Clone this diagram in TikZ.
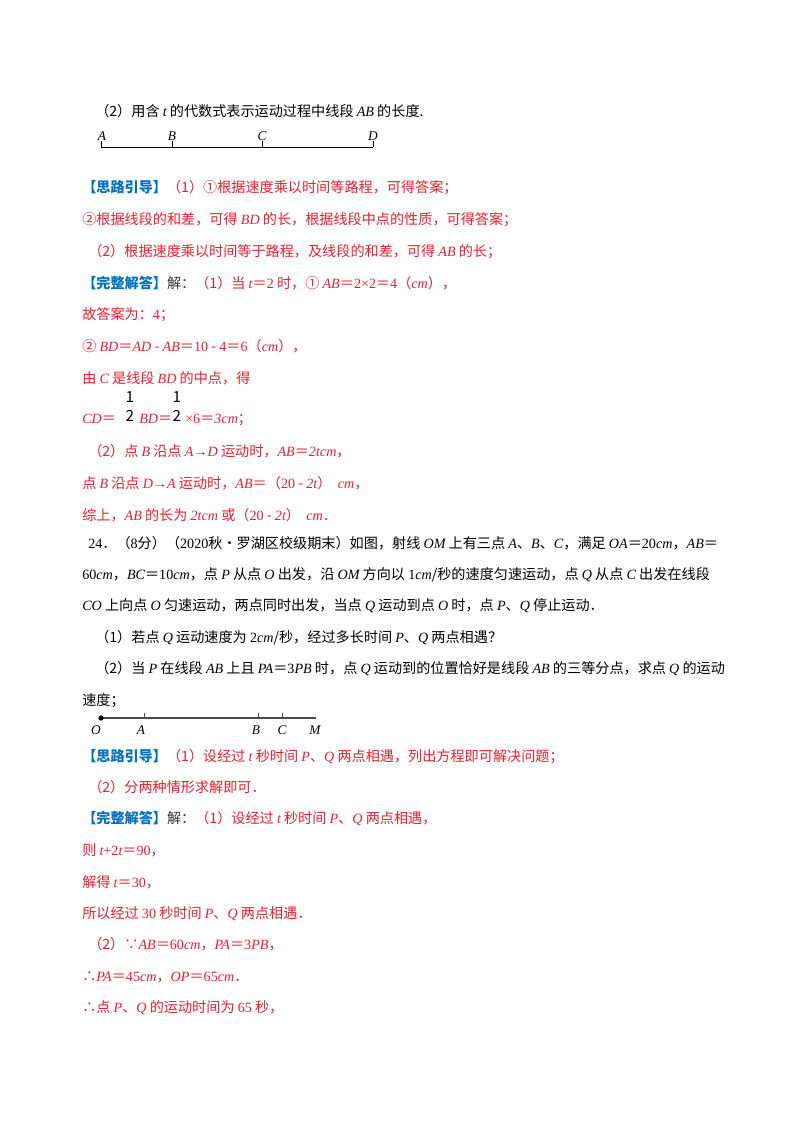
\documentclass[tikz,border=0pt]{standalone}
\usepackage{fontspec}
\setmainfont{Noto Sans CJK SC}
\newfontfamily\lat{Liberation Serif}
\newcommand\mi[1]{{\lat\itshape #1}}
\newcommand\mr[1]{{\lat #1}}
\definecolor{rd}{RGB}{235,30,45}
\definecolor{bl}{RGB}{0,112,192}
\begin{document}
\begin{tikzpicture}[x=0.75pt,y=-0.75pt,
  t/.style={anchor=base west,inner sep=0,font=\fontsize{10.6}{12}\selectfont},
  r/.style={t,text=rd},
  k/.style={t,text=black},
  fr/.style={inner sep=0,font=\fontsize{11.5}{12}\selectfont},
  lab/.style={inner sep=0,font=\lat\itshape\fontsize{10}{12}\selectfont}]
\useasboundingbox (0,0) rectangle (800,1132);
\node[k] (l1) at (95,116) {（2）用含 \mi{t} 的代数式表示运动过程中线段 \mi{AB} 的长度.};
% diagram 1
\coordinate (pA) at (101,147); \coordinate (pB) at (172,147);
\coordinate (pC) at (262,147); \coordinate (pD) at (373,147);
\draw[line width=0.7pt] (pA) -- (pD);
\foreach \p in {pA,pB,pC,pD} \draw[line width=0.7pt] (\p) -- ++(0,-6);
\node[lab] (nA) at (102,136) {A}; \node[lab] (nB) at (172,136) {B};
\node[lab] (nC) at (262,136) {C}; \node[lab] (nD) at (373,136) {D};
\node[r] (l2) at (82,192) {\textcolor{bl}{\bfseries【思路引导】}（1）①根据速度乘以时间等路程，可得答案；};
\node[r] (l3) at (82,224) {②根据线段的和差，可得 \mi{BD} 的长，根据线段中点的性质，可得答案；};
\node[r] (l4) at (88,256) {（2）根据速度乘以时间等于路程，及线段的和差，可得 \mi{AB} 的长；};
\node[r] (l5) at (82,288) {\textcolor{bl}{\bfseries【完整解答】}\textcolor{black!80}{解：}（1）当 \mi{t}＝\mr{2} 时，① \mi{AB}＝\mr{2×2}＝\mr{4}（\mi{cm}），};
\node[r] (l6) at (82,319) {故答案为：\mr{4}；};
\node[r] (l7) at (82,351) {② \mi{BD}＝\mi{AD} - \mi{AB}＝\mr{10} - \mr{4}＝\mr{6}（\mi{cm}），};
\node[r] (l8) at (82,383) {由 \mi{C} 是线段 \mi{BD} 的中点，得};
\node[r] (l9) at (82,423) {\mi{CD}＝};
\node[fr] (f1n) at (130,397) {1};
\node[fr] (f1d) at (130,416) {2};
\node[r] (l9b) at (139,423) {\mi{BD}＝};
\node[fr] (f2n) at (177,397) {1};
\node[fr] (f2d) at (177,416) {2};
\node[r] (l9c) at (185,423) {\mr{×6}＝\mi{3cm}；};
\node[r] (l10) at (88,456) {（2）点 \mi{B} 沿点 \mi{A}\mr{→}\mi{D} 运动时，\mi{AB}＝\mi{2tcm}，};
\node[r] (l11) at (82,488) {点 \mi{B} 沿点 \mi{D}\mr{→}\mi{A} 运动时，\mi{AB}＝（\mr{20} - \mi{2t}）\ \ \mi{cm}，};
\node[r] (l12) at (82,520) {综上，\mi{AB} 的长为 \mi{2tcm} 或（\mr{20} - \mi{2t}）\ \ \mi{cm}．};
\node[k] (l13) at (88,548) {\mr{24}．（\mr{8}分）（\mr{2020}秋•罗湖区校级期末）如图，射线 \mi{OM} 上有三点 \mi{A}、\mi{B}、\mi{C}，满足 \mi{OA}＝\mr{20}\mi{cm}，\mi{AB}＝};
\node[k] (l14) at (82,579) {\mr{60}\mi{cm}，\mi{BC}＝\mr{10}\mi{cm}，点 \mi{P} 从点 \mi{O} 出发，沿 \mi{OM} 方向以 \mr{1}\mi{cm}/秒的速度匀速运动，点 \mi{Q} 从点 \mi{C} 出发在线段};
\node[k] (l15) at (82,610) {\mi{CO} 上向点 \mi{O} 匀速运动，两点同时出发，当点 \mi{Q} 运动到点 \mi{O} 时，点 \mi{P}、\mi{Q} 停止运动．};
\node[k] (l16) at (95,642) {（1）若点 \mi{Q} 运动速度为 \mr{2}\mi{cm}/秒，经过多长时间 \mi{P}、\mi{Q} 两点相遇？};
\node[k] (l17) at (95,673) {（2）当 \mi{P} 在线段 \mi{AB} 上且 \mi{PA}＝\mr{3}\mi{PB} 时，点 \mi{Q} 运动到的位置恰好是线段 \mi{AB} 的三等分点，求点 \mi{Q} 的运动};
\node[k] (l18) at (82,705) {速度；};
% diagram 2
\coordinate (qO) at (101,718); \coordinate (qA) at (144,718);
\coordinate (qB) at (258,718); \coordinate (qC) at (282,718);
\coordinate (qM) at (316,718);
\draw[line width=0.8pt,black!70] (qO) -- (qM);
\fill (qO) circle (2.6);
\foreach \p in {qA,qB,qC} \draw[line width=0.7pt,black!70] (\p) -- ++(0,-5);
\node[lab] (mO) at (96,730) {O}; \node[lab] (mA) at (141,730) {A};
\node[lab] (mB) at (256,730) {B}; \node[lab] (mC) at (282,730) {C};
\node[lab] (mM) at (315,730) {M};
\node[r] (l19) at (82,761) {\textcolor{bl}{\bfseries【思路引导】}（1）设经过 \mi{t} 秒时间 \mi{P}、\mi{Q} 两点相遇，列出方程即可解决问题；};
\node[r] (l20) at (88,792) {（2）分两种情形求解即可．};
\node[r] (l21) at (82,823) {\textcolor{bl}{\bfseries【完整解答】}\textcolor{black!80}{解：}（1）设经过 \mi{t} 秒时间 \mi{P}、\mi{Q} 两点相遇，};
\node[r] (l22) at (82,855) {则 \mi{t}\mr{+2}\mi{t}＝\mr{90}，};
\node[r] (l23) at (82,887) {解得 \mi{t}＝\mr{30}，};
\node[r] (l24) at (82,918) {所以经过 \mr{30} 秒时间 \mi{P}、\mi{Q} 两点相遇．};
\node[r] (l25) at (88,949) {（2）∵\mi{AB}＝\mr{60}\mi{cm}，\mi{PA}＝\mr{3}\mi{PB}，};
\node[r] (l26) at (82,981) {∴\mi{PA}＝\mr{45}\mi{cm}，\mi{OP}＝\mr{65}\mi{cm}．};
\node[r] (l27) at (82,1012) {∴点 \mi{P}、\mi{Q} 的运动时间为 \mr{65} 秒，};
\end{tikzpicture}
\end{document}
